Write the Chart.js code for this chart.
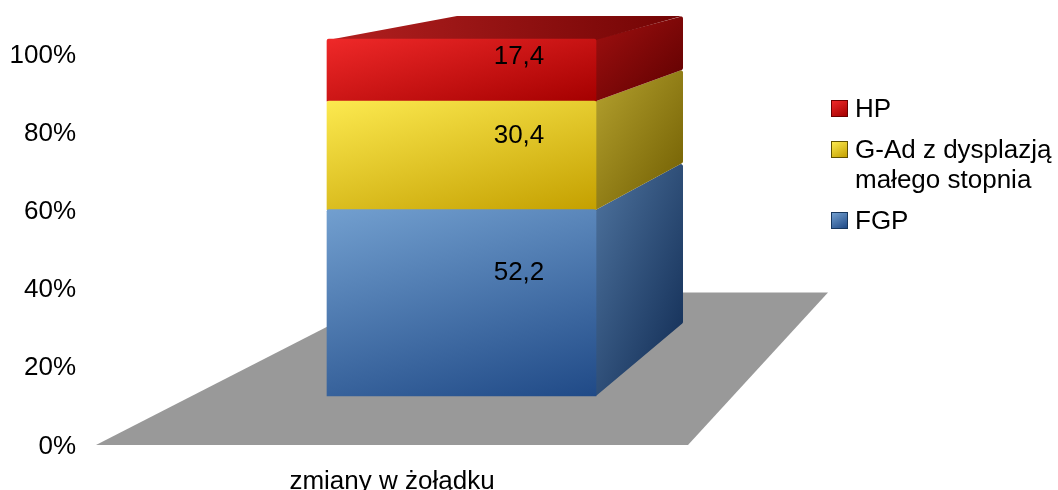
<!DOCTYPE html>
<html lang="pl">
<head>
    <meta charset="UTF-8">
    <title>zmiany w żołądku</title>
    <script src="https://cdn.jsdelivr.net/npm/chart.js"></script>
    <style>
        html, body { margin: 0; padding: 0; background: #ffffff; overflow: hidden; }
        #wrap { position: relative; width: 1058px; height: 490px; }
        #legend {
            position: absolute; left: 831px; top: 93px;
            font: 26px/30px "Liberation Sans", Arial, sans-serif; color: #000;
        }
        .item { display: flex; margin-bottom: 11px; white-space: pre-line; }
        .swatch { width: 15px; height: 15px; margin: 7px 7px 0 0; border: 1px solid; flex: none; }
    </style>
</head>
<body>
<div id="wrap">
    <canvas id="myChart"></canvas>
    <div id="legend"></div>
</div>
<script>
    const categories = ['zmiany w żołądku'];
    const seriesNames = ['FGP', 'G-Ad z dysplazją\nmałego stopnia', 'HP'];
    const seriesValues = [[52.2], [30.4], [17.4]];
    const tickValues = [0, 20, 40, 60, 80, 100];

    // light -> dark corner colours of each series: front, side, top
    const frontColors = [['#729fcf', '#204a87'], ['#fce94f', '#c4a000'], ['#ef2929', '#a40000']];
    const sideColors = [['#4f749f', '#0f2a52'], ['#b5a22f', '#6f5c00'], ['#a01010', '#5c0000']];
    const topColors = ['#b32020', '#720404'];
    const swatchBorders = ['#17375e', '#5f5000', '#6b0000'];

    // box projection: the back edge moves up more the lower the point is
    const backY = y => y - (23 + 0.14 * (y - 39));
    const backX = (x, left, right) => x + 87 + (right - x) * 43 / (right - left);

    function diagonal(ctx, x0, y0, x1, y1, colors) {
        const g = ctx.createLinearGradient(x0, y0, x1, y1);
        g.addColorStop(0, colors[0]);
        g.addColorStop(1, colors[1]);
        return g;
    }

    // closed path, corners rounded with radius r
    function polygon(ctx, pts, fill, r = 0) {
        const n = pts.length;
        const first = pts[0];
        const last = pts[n - 1];
        ctx.beginPath();
        ctx.moveTo((first[0] + last[0]) / 2, (first[1] + last[1]) / 2);
        pts.forEach((p, i) => {
            const next = pts[(i + 1) % n];
            ctx.arcTo(p[0], p[1], next[0], next[1], r);
        });
        ctx.closePath();
        ctx.fillStyle = fill;
        ctx.fill();
    }

    // front face shading: starts in the upper left corner, ends in the lower right,
    // tilted a little away from vertical
    function frontFill(context) {
        const chart = context.chart;
        const i = context.datasetIndex;
        const scale = chart.scales.yBar;
        if (!scale || !chart.chartArea) return frontColors[i][1];
        let start = 0;
        for (let k = 0; k < i; k++) start += seriesValues[k][0];
        const yTop = scale.getPixelForValue(start + seriesValues[i][0]);
        const h = scale.getPixelForValue(start) - yTop;
        const w = context.dataset.barThickness;
        const left = chart.scales.x.getPixelForValue(0) - w / 2;
        const a = 0.27 * h;
        const s = (w * a + h * h) / (a * a + h * h);
        return diagonal(chart.ctx, left, yTop, left + a * s, yTop + h * s, frontColors[i]);
    }

    const floorPlugin = {
        id: 'floor',
        beforeDatasetsDraw(chart) {
            const ctx = chart.ctx;
            const a = chart.chartArea;
            const y = chart.scales.y;
            const backLine = y.getPixelForValue(39);
            ctx.save();
            polygon(ctx, [
                [a.left - 139, a.bottom], [a.right, a.bottom],
                [a.right + 140, backLine], [a.left + 159, backLine]
            ], '#999999');
            ctx.restore();
        }
    };

    const sidesPlugin = {
        id: 'sides',
        beforeDatasetsDraw(chart) {
            const ctx = chart.ctx;
            ctx.save();
            chart.data.datasets.forEach((ds, i) => {
                const bar = chart.getDatasetMeta(i).data[0];
                const left = bar.x - bar.width / 2;
                const right = bar.x + bar.width / 2;
                const bx = backX(right, left, right);
                // shading across the side's bounding box, corner to corner
                const w = bx - right;
                const h = bar.base - backY(bar.y);
                const s = 2 * w * h / (w * w + h * h);
                const shade = diagonal(ctx, right, backY(bar.y), right + h * s, backY(bar.y) + w * s, sideColors[i]);
                // starts a bit behind the front face so no gap shows at the seam
                polygon(ctx, [
                    [right - 3, bar.y], [right, bar.y], [bx, backY(bar.y)],
                    [bx, backY(bar.base)], [right, bar.base], [right - 3, bar.base]
                ], shade, 2);
                // lid of the box, its corners are too sharp to round
                if (i === chart.data.datasets.length - 1) {
                    polygon(ctx, [
                        [left + 1, bar.y + 1], [backX(left, left, right), backY(bar.y)],
                        [bx - 1, backY(bar.y)], [right, bar.y + 1]
                    ], diagonal(ctx, left, bar.y, bx, backY(bar.y), topColors));
                }
            });
            ctx.restore();
        }
    };

    // values sit in the middle of the box, between front and back
    const valuesPlugin = {
        id: 'values',
        afterDatasetsDraw(chart) {
            const ctx = chart.ctx;
            ctx.save();
            ctx.font = '26px "Liberation Sans"';
            ctx.fillStyle = '#000';
            ctx.textAlign = 'center';
            ctx.textBaseline = 'middle';
            chart.data.datasets.forEach((ds, i) => {
                const bar = chart.getDatasetMeta(i).data[0];
                const mid = (bar.y + bar.base) / 2;
                const text = String(ds.data[0]).replace('.', ',');
                ctx.fillText(text, bar.x + 57.5, (mid + backY(mid)) / 2);
            });
            ctx.restore();
        }
    };

    const font = { family: '"Liberation Sans"', size: 26 };

    new Chart(document.getElementById('myChart').getContext('2d'), {
        type: 'bar',
        data: {
            labels: categories,
            datasets: seriesNames.map((name, i) => ({
                label: name,
                data: seriesValues[i],
                yAxisID: 'yBar',
                backgroundColor: frontFill,
                borderWidth: 0,
                borderRadius: { topLeft: 2, topRight: 2, bottomLeft: 2, bottomRight: 2 },
                barThickness: 269,
                clip: false
            }))
        },
        options: {
            responsive: true,
            maintainAspectRatio: false,
            animation: false,
            layout: { autoPadding: false, padding: { top: 54, right: 370, bottom: 0, left: 0 } },
            plugins: { legend: { display: false }, tooltip: { enabled: false } },
            scales: {
                x: {
                    stacked: true,
                    grid: { display: false },
                    border: { display: false },
                    afterFit(scale) {
                        scale.height = 45;
                        scale.paddingLeft = scale.paddingRight = 0;
                    },
                    ticks: {
                        font, color: '#000', maxRotation: 0, autoSkip: false,
                        labelOffset: -69.5, padding: 13
                    }
                },
                y: {
                    min: 0, max: 100,
                    grid: { display: false },
                    border: { display: false },
                    afterFit(scale) {
                        scale.width = 235;
                        // the big tick padding only pushes the labels sideways
                        scale.paddingTop = scale.paddingBottom = 0;
                    },
                    afterBuildTicks(scale) { scale.ticks = tickValues.map(value => ({ value })); },
                    ticks: {
                        font, color: '#000', padding: 151, labelOffset: 1.5,
                        autoSkip: false, callback: v => v + '%'
                    }
                },
                // scale of the front face, which is shorter than the axis shown
                yBar: {
                    display: false,
                    stacked: true,
                    min: -(445 - 396) / 3.57,
                    max: (396 - 54) / 3.57
                }
            }
        },
        plugins: [floorPlugin, sidesPlugin, valuesPlugin]
    });

    // legend lists the series top of the stack first
    const legend = document.getElementById('legend');
    seriesNames.map((name, i) => i).reverse().forEach(i => {
        const item = document.createElement('div');
        item.className = 'item';
        const swatch = document.createElement('div');
        swatch.className = 'swatch';
        swatch.style.background = `linear-gradient(150deg, ${frontColors[i][0]}, ${frontColors[i][1]})`;
        swatch.style.borderColor = swatchBorders[i];
        const text = document.createElement('div');
        text.textContent = seriesNames[i];
        item.append(swatch, text);
        legend.append(item);
    });
</script>
</body>
</html>
